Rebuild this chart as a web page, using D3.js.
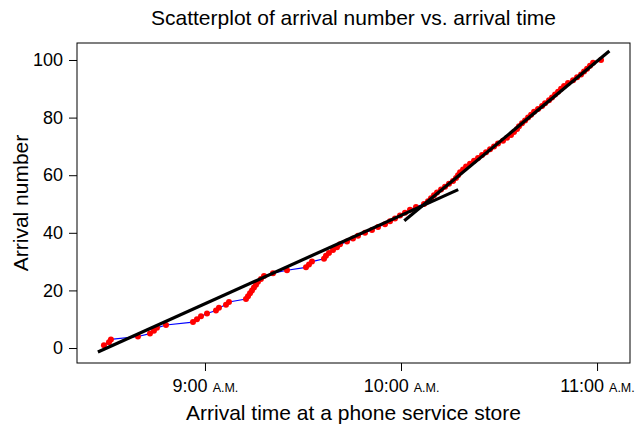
<!DOCTYPE html>
<html><head><meta charset="utf-8">
<script src="https://cdn.jsdelivr.net/npm/d3@7"></script>
<style>
body{margin:0;background:#fff}
text{font-family:"Liberation Sans", Arial, Helvetica, sans-serif;fill:#000}
</style>
</head><body>
<svg id="chart" width="636" height="428"></svg>
<script>
// ---- data ----
const arrivalNumbers = [1,2,3,4,5,6,7,8,9,10,11,12,13,14,15,16,17,18,19,20,
  21,22,23,24,25,26,27,28,29,30,31,32,33,34,35,36,37,38,39,40,
  41,42,43,44,45,46,47,48,49,50,51,52,53,54,55,56,57,58,59,60,
  61,62,63,64,65,66,67,68,69,70,71,72,73,74,75,76,77,78,79,80,
  81,82,83,84,85,86,87,88,89,90,91,92,93,94,95,96,97,98,99,100];
const arrivalTimes = [
  "8:29:05","8:30:37","8:31:13","8:39:29","8:43:10","8:44:23","8:45:18","8:48:04","8:56:20","8:57:33",
  "8:58:47","9:00:37","9:03:22","9:04:17","9:06:26","9:07:21","9:12:33","9:13:10","9:13:47","9:14:23",
  "9:15:00","9:15:37","9:16:13","9:17:08","9:18:04","9:20:49","9:25:06","9:30:55","9:31:50","9:32:45",
  "9:36:26","9:37:02","9:37:57","9:39:11","9:40:24","9:41:20","9:43:28","9:45:18","9:46:50","9:48:59",
  "9:51:07","9:52:58","9:55:06","9:56:38","9:58:10","9:59:41","10:01:13","10:02:45","10:04:35","10:07:02",
  "10:08:16","10:09:11","10:10:06","10:11:01","10:12:15","10:13:28","10:14:41","10:15:55","10:16:50","10:17:27",
  "10:18:04","10:18:59","10:19:54","10:21:07","10:22:21","10:23:34","10:24:48","10:26:01","10:27:15","10:28:28",
  "10:29:41","10:31:13","10:32:27","10:33:40","10:34:35","10:35:31","10:36:07","10:37:02","10:37:58","10:38:53",
  "10:39:48","10:40:43","10:41:56","10:43:10","10:44:05","10:45:18","10:46:13","10:47:09","10:48:04","10:48:59",
  "10:49:54","10:51:07","10:52:39","10:53:53","10:55:06","10:56:01","10:56:56","10:57:51","10:58:47","11:01:13"];
// fitted line segments: [start time, start value, end time, end value]
const fitLine1 = ["8:27:14", -1.4, "10:17:30", 55.0];
const fitLine2 = ["10:01:00", 44.2, "11:03:46", 103.1];
const xTicks = ["9:00:00","10:00:00","11:00:00"];
const yTicks = [0,20,40,60,80,100];
const xDomain = ["8:20:50","11:10:05"];
const yDomain = [-5.2, 105.9];
const titleText = "Scatterplot of arrival number vs. arrival time";
const xLabel = "Arrival time at a phone service store";
const yLabel = "Arrival number";
const amSuffix = "A.M.";

// ---- drawing ----
const parse = d3.timeParse("%H:%M:%S");
const W = 636, H = 428;
const m = {left:77, right:6, top:43, bottom:65};
const svg = d3.select("#chart");

const x = d3.scaleTime().domain(xDomain.map(parse)).range([m.left, W - m.right]);
const y = d3.scaleLinear().domain(yDomain).range([H - m.bottom, m.top]);

const pts = arrivalNumbers.map((n,i) => ({t: parse(arrivalTimes[i]), n}));

// connecting line
svg.append("path")
  .datum(pts)
  .attr("fill","none").attr("stroke","#0000ff").attr("stroke-width",1.2)
  .attr("d", d3.line().x(d => x(d.t)).y(d => y(d.n)));

// points
svg.append("g").selectAll("circle").data(pts).join("circle")
  .attr("cx", d => x(d.t)).attr("cy", d => y(d.n)).attr("r", 3)
  .attr("fill","#ff0000");

// fitted lines
[fitLine1, fitLine2].forEach(L => {
  svg.append("line")
    .attr("x1", x(parse(L[0]))).attr("y1", y(L[1]))
    .attr("x2", x(parse(L[2]))).attr("y2", y(L[3]))
    .attr("stroke","#000").attr("stroke-width",3.2).attr("stroke-linecap","butt");
});

// box
svg.append("rect")
  .attr("x", m.left).attr("y", m.top)
  .attr("width", W - m.left - m.right).attr("height", H - m.top - m.bottom)
  .attr("fill","none").attr("stroke","#000").attr("stroke-width",1);

// x axis
const xAxis = d3.axisBottom(x).tickValues(xTicks.map(parse))
  .tickSize(8).tickPadding(8).tickFormat(d => d3.timeFormat("%-H:%M")(d) + " ");
const gx = svg.append("g").attr("transform", `translate(0,${H - m.bottom})`).call(xAxis);
gx.select(".domain").remove();
gx.selectAll(".tick line").attr("stroke","#000");
gx.selectAll(".tick text")
  .attr("font-size", 18).attr("font-family", "Liberation Sans, Arial, sans-serif")
  .style("white-space","pre")
  .each(function(){
    d3.select(this).append("tspan").attr("font-size", 12.5).text(amSuffix);
  });

// y axis
const yAxis = d3.axisLeft(y).tickValues(yTicks).tickSize(8).tickPadding(6);
const gy = svg.append("g").attr("transform", `translate(${m.left},0)`).call(yAxis);
gy.select(".domain").remove();
gy.selectAll(".tick line").attr("stroke","#000");
gy.selectAll(".tick text").attr("font-size", 18).attr("font-family", "Liberation Sans, Arial, sans-serif");

// title and labels
svg.append("text").attr("x", (m.left + W - m.right)/2).attr("y", 25)
  .attr("text-anchor","middle").attr("font-size", 21).text(titleText);
svg.append("text").attr("x", (m.left + W - m.right)/2).attr("y", 420)
  .attr("text-anchor","middle").attr("font-size", 21).text(xLabel);
svg.append("text").attr("transform", `translate(28,${(m.top + H - m.bottom)/2}) rotate(-90)`)
  .attr("text-anchor","middle").attr("font-size", 21).text(yLabel);
</script>
</body></html>
